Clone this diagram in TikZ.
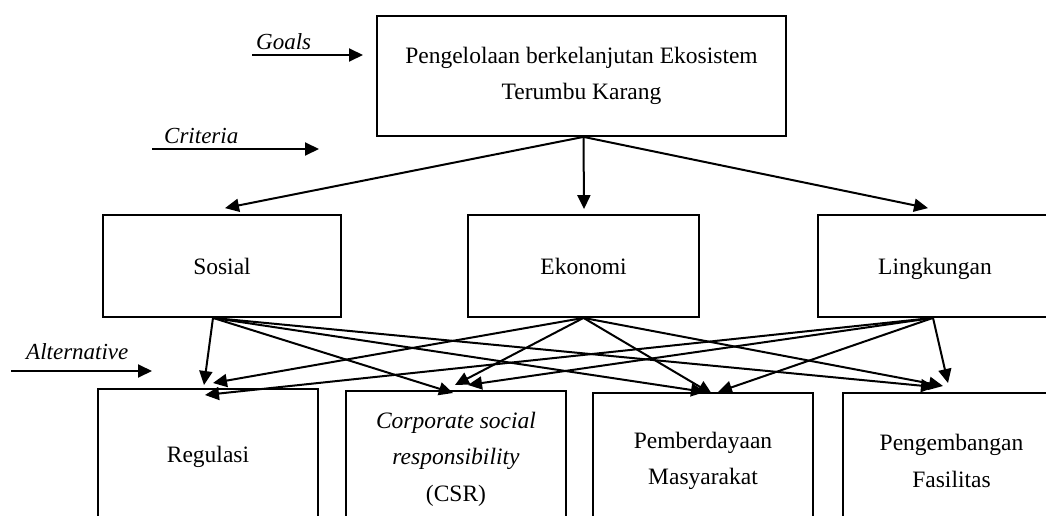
\documentclass[tikz,border=0pt]{standalone}
\usepackage{fontspec}
\setmainfont{Liberation Serif}
\usetikzlibrary{arrows.meta}
\begin{document}
\begin{tikzpicture}[x=1pt,y=-1pt,
  box/.style={draw,line width=1.8pt,inner sep=0pt,align=center,font=\fontsize{23.5}{36.5}\selectfont},
  altbox/.style={box,anchor=north,minimum width=220pt,minimum height=136pt},
  critbox/.style={box,minimum height=102pt,text height=19pt,text depth=2pt},
  arr/.style={line width=2pt,-{Triangle[length=14pt,width=13pt]}},
  lbl/.style={font=\fontsize{23}{27}\selectfont\itshape,inner sep=0pt,anchor=base west}]
\clip (0,0) rectangle (1046,516);

% goal
\node[box,minimum width=409pt,minimum height=120pt] (goal) at (581.5,76) {Pengelolaan berkelanjutan Ekosistem\\Terumbu Karang};

% criteria
\node[critbox,minimum width=238pt] (sos) at (222,266) {Sosial};
\node[critbox,minimum width=231pt] (eko) at (583.5,266) {Ekonomi};
\node[critbox,minimum width=234pt] (lin) at (935,266) {Lingkungan};

% alternatives
\node[altbox,text height=16pt,text depth=5pt] (reg) at (208,388) {Regulasi};
\node[altbox] (csr) at (456,390) {\textit{Corporate social}\\\textit{responsibility}\\(CSR)};
\node[altbox] (pem) at (703,392) {Pemberdayaan\\Masyarakat};
\node[altbox,minimum width=217pt] (pen) at (951.5,392) {Pengembangan\\Fasilitas};

% level labels
\node[lbl] (goals) at (256,50) {Goals};
\coordinate (g-s) at (252,55); \coordinate (g-e) at (363,55);
\draw[arr] (g-s) -- (g-e);
\node[lbl] (crit) at (164,143) {Criteria};
\coordinate (c-s) at (152,149); \coordinate (c-e) at (319,149);
\draw[arr] (c-s) -- (c-e);
\node[lbl] (alt) at (26,359) {Alternative};
\coordinate (a-s) at (11,371); \coordinate (a-e) at (152,371);
\draw[arr] (a-s) -- (a-e);

% goal -> criteria
\draw[arr] ([xshift=2pt]goal.south) -- ([xshift=3pt,yshift=6pt]sos.north);
\draw[arr] ([xshift=2pt]goal.south) -- ([xshift=0.5pt,yshift=5pt]eko.north);
\draw[arr] ([xshift=2pt]goal.south) -- ([xshift=-7pt,yshift=6pt]lin.north);

% criteria -> alternatives
\draw[arr] ([xshift=-9pt]sos.south) -- ([xshift=-4pt,yshift=3pt]reg.north);
\draw[arr] (eko.south) -- ([xshift=5pt,yshift=5pt]reg.north);
\draw[arr] ([xshift=-2pt]lin.south) -- ([xshift=-3pt,yshift=-7pt]reg.north);

\draw[arr] ([xshift=-9pt]sos.south) -- ([xshift=-3pt,yshift=-3pt]csr.north);
\draw[arr] (eko.south) -- ([xshift=-1pt,yshift=5pt]csr.north);
\draw[arr] ([xshift=-2pt]lin.south) -- ([xshift=12pt,yshift=5pt]csr.north);

\draw[arr] ([xshift=-9pt]sos.south) -- ([xshift=2pt]pem.north);
\draw[arr] (eko.south) -- ([xshift=9pt,yshift=-2pt]pem.north);
\draw[arr] ([xshift=-2pt]lin.south) -- ([xshift=15pt]pem.north);

\draw[arr] ([xshift=-9pt]sos.south) -- ([xshift=-16.5pt,yshift=5pt]pen.north);
\draw[arr] (eko.south) -- ([xshift=-8.5pt,yshift=6pt]pen.north);
\draw[arr] ([xshift=-2pt]lin.south) -- ([xshift=-3.5pt,yshift=9pt]pen.north);
\end{tikzpicture}
\end{document}
